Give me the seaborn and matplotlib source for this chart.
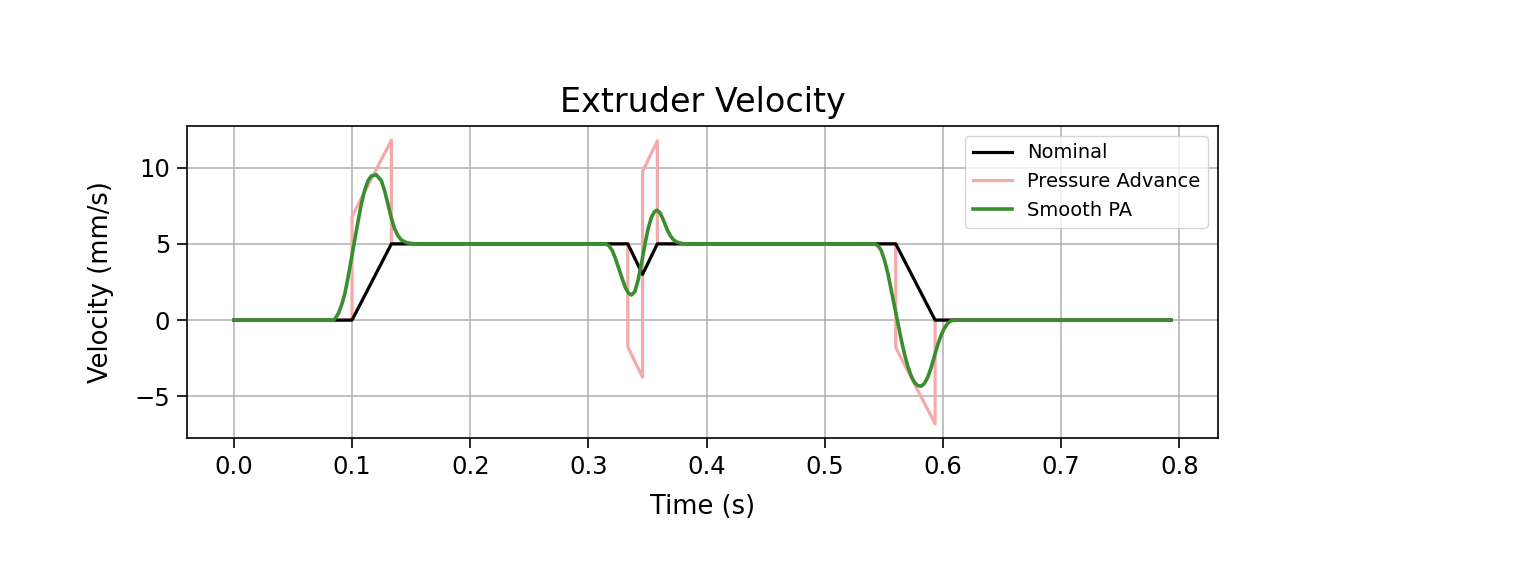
import numpy as np
import matplotlib
matplotlib.use("Agg")
import matplotlib.pyplot as plt
import seaborn as sns

# --- data (time in s, velocity in mm/s) ---
nominal_t = [0.0, 0.1, 0.1333, 0.3333, 0.3458, 0.3583, 0.56, 0.5933, 0.793]
nominal_v = [0.0, 0.0, 5.0, 5.0, 3.0, 5.0, 5.0, 0.0, 0.0]

pa_t = [0.0, 0.1, 0.1, 0.1333, 0.1333, 0.3333, 0.3333, 0.3458, 0.3458,
        0.3583, 0.3583, 0.56, 0.56, 0.5933, 0.5933, 0.793]
pa_v = [0.0, 0.0, 6.8, 11.8, 5.0, 5.0, -1.75, -3.75, 9.75,
        11.75, 5.0, 5.0, -1.8, -6.8, 0.0, 0.0]

smooth_t = [0.0, 0.0840, 0.0854, 0.0882, 0.0910, 0.0939, 0.0967, 0.0995,
            0.1023, 0.1051, 0.1079, 0.1107, 0.1135, 0.1163, 0.1205, 0.1248,
            0.1276, 0.1304, 0.1332, 0.1360, 0.1388, 0.1416, 0.1458, 0.1501,
            0.1543,
            0.3144, 0.3172, 0.3201, 0.3229, 0.3257, 0.3285, 0.3313, 0.3341,
            0.3364, 0.3392, 0.3420, 0.3448, 0.3476, 0.3504, 0.3532, 0.3560,
            0.3580, 0.3608, 0.3636, 0.3664, 0.3692, 0.3720, 0.3749, 0.3791,
            0.3819,
            0.5420, 0.5449, 0.5477, 0.5505, 0.5533, 0.5561, 0.5589, 0.5617,
            0.5645, 0.5673, 0.5701, 0.5730, 0.5758, 0.5786, 0.5814, 0.5842,
            0.5870, 0.5898, 0.5926, 0.5954, 0.5983, 0.6011, 0.6039, 0.6067,
            0.6109, 0.793]
smooth_v = [0.0, 0.0, 0.07, 0.40, 0.95, 1.73, 2.83, 4.05,
            5.27, 6.48, 7.63, 8.52, 9.14, 9.45, 9.53, 9.14,
            8.47, 7.59, 6.70, 5.99, 5.55, 5.26, 5.09, 5.02,
            5.0,
            5.0, 4.89, 4.57, 4.03, 3.38, 2.73, 2.12, 1.75,
            1.65, 1.86, 2.62, 3.70, 4.89, 5.97, 6.73, 7.12,
            7.21, 7.01, 6.52, 5.97, 5.54, 5.26, 5.11, 5.02,
            5.0,
            5.0, 4.89, 4.57, 3.93, 3.07, 2.00, 0.92, -0.15,
            -1.22, -2.19, -3.00, -3.65, -4.08, -4.29, -4.33, -4.16,
            -3.76, -3.15, -2.40, -1.65, -1.01, -0.54, -0.21, -0.04,
            0.0, 0.0]

fig = plt.figure(figsize=(15.14, 5.70), dpi=100)
ax = fig.add_axes([0.1235, 0.2316, 0.681, 0.5474])

# pink PA drawn under the nominal line, smooth PA on top
sns.lineplot(x=nominal_t, y=nominal_v, color="black", label="Nominal",
             estimator=None, sort=False, linewidth=2.3, zorder=3, ax=ax)
sns.lineplot(x=pa_t, y=pa_v, color="#f5aaaa", label="Pressure Advance",
             estimator=None, sort=False, linewidth=2.3, zorder=2, ax=ax)
sns.lineplot(x=smooth_t, y=smooth_v, color="#3a8e30", label="Smooth PA",
             estimator=None, sort=False, linewidth=2.6, zorder=4, ax=ax)

ax.set_xticks(np.arange(0.0, 0.81, 0.1))
ax.set_yticks([-5, 0, 5, 10])
ax.grid(True, color="#b0b0b0", linewidth=1.1)
ax.set_axisbelow(True)
for s in ax.spines.values():
    s.set_linewidth(1.2)
ax.tick_params(labelsize=17.5, length=7, width=1.2, pad=5)

ax.set_title("Extruder Velocity", fontsize=24, pad=10)
ax.set_xlabel("Time (s)", fontsize=18.5, labelpad=11)
ax.set_ylabel("Velocity (mm/s)", fontsize=18.5, labelpad=15)

ax.legend(loc="upper right", fontsize=14, framealpha=0.8)

fig.savefig("out.png", dpi=100)
